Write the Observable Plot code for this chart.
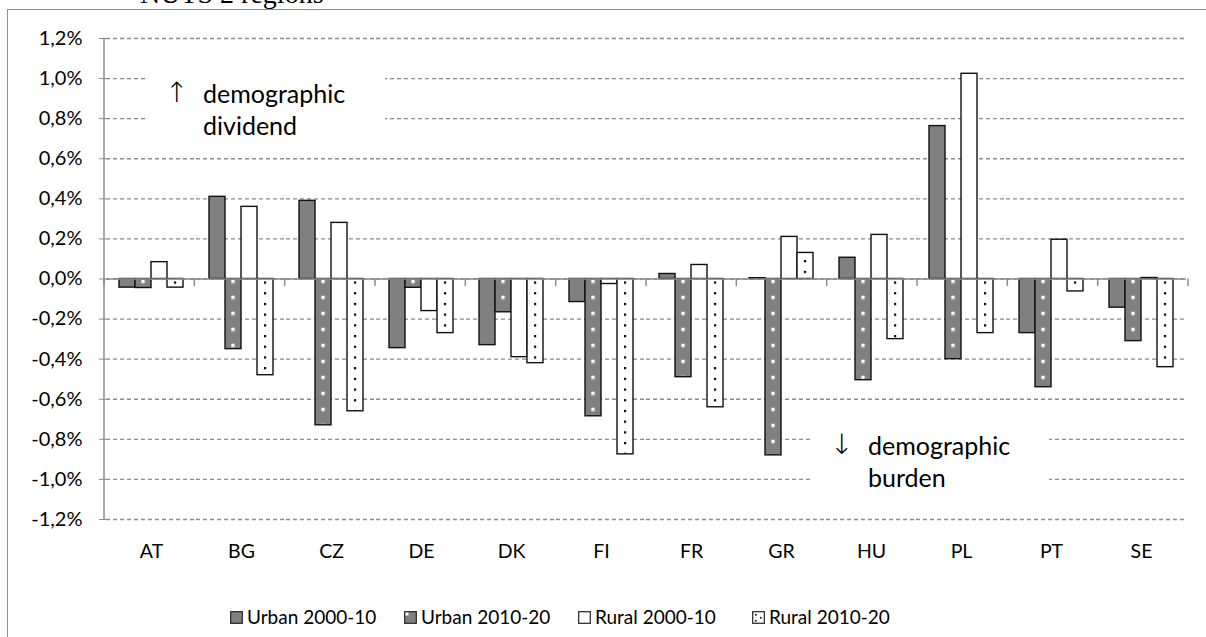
<!DOCTYPE html>
<html><head><meta charset="utf-8">
<script src="https://cdn.jsdelivr.net/npm/d3@7"></script>
<script src="https://cdn.jsdelivr.net/npm/@observablehq/plot@0.6"></script>
<style>
body{margin:0;background:#fff;}
#wrap{position:relative;width:1206px;height:637px;overflow:hidden;font-family:Lato,"DejaVu Sans",sans-serif;color:#000;}
#frame{position:absolute;left:7px;top:9px;width:1300px;height:700px;border-left:1.5px solid #8e8e8e;border-top:1.5px solid #8e8e8e;}
#title{position:absolute;left:140px;top:-20.5px;font-family:"Liberation Serif","Times New Roman",serif;font-size:28px;line-height:28px;white-space:nowrap;}
#chart{position:absolute;left:0;top:0;}
.note{position:absolute;background:#fff;font-size:25px;line-height:32px;}
.note .arr{position:absolute;font-family:"DejaVu Sans",sans-serif;font-size:28px;line-height:32px;font-weight:200;color:#000;}
.note .txt{position:absolute;white-space:nowrap;}
#legend{position:absolute;top:607px;left:230px;display:flex;font-size:19px;line-height:19px;}
.item{width:174px;display:flex;align-items:flex-start;white-space:nowrap;}
.item svg{margin-top:4px;margin-right:4px;flex:none;}
</style></head>
<body>
<div id="wrap">
  <div id="title">NUTS 2 regions</div>
  <div id="frame"></div>
  <div id="chart"></div>
  <div class="note" style="left:146px;top:62px;width:239px;height:84px">
    <span class="arr" style="left:19px;top:15px">↑</span>
    <div class="txt" style="left:57px;top:15px">demographic<br>dividend</div>
  </div>
  <div class="note" style="left:813px;top:420px;width:236px;height:80px">
    <span class="arr" style="left:17px;top:9px">↓</span>
    <div class="txt" style="left:55px;top:9px">demographic<br>burden</div>
  </div>
  <div id="legend"></div>
</div>
<script>
const countries = ["AT","BG","CZ","DE","DK","FI","FR","GR","HU","PL","PT","SE"];
const seriesNames = ["Urban 2000-10","Urban 2010-20","Rural 2000-10","Rural 2010-20"];
const urban2000 = [-0.043, 0.41, 0.39, -0.345, -0.33, -0.115, 0.025, 0.004, 0.106, 0.763, -0.27, -0.143];
const urban2010 = [-0.045, -0.35, -0.73, -0.044, -0.166, -0.685, -0.49, -0.88, -0.505, -0.40, -0.54, -0.31];
const rural2000 = [0.084, 0.36, 0.28, -0.16, -0.39, -0.025, 0.07, 0.21, 0.22, 1.024, 0.196, 0.005];
const rural2010 = [-0.043, -0.48, -0.66, -0.27, -0.42, -0.875, -0.64, 0.13, -0.30, -0.27, -0.062, -0.44];
const yTicks = [-1.2, -1.0, -0.8, -0.6, -0.4, -0.2, 0, 0.2, 0.4, 0.6, 0.8, 1.0, 1.2];

const seriesValues = [urban2000, urban2010, rural2000, rural2010];
const data = countries.flatMap((c, i) => seriesNames.map((s, j) => ({country: c, series: s, value: seriesValues[j][i]})));
const fills = ["#808080", "url(#patU10)", "#ffffff", "url(#patR10)"];
const fmt = d => (d < 0 ? "-" : "") + Math.abs(d).toFixed(1).replace(".", ",") + "%";

const plot = Plot.plot({
  width: 1206, height: 560,
  marginLeft: 104, marginRight: 18, marginTop: 38, marginBottom: 41,
  style: {fontFamily: "Lato, 'DejaVu Sans', sans-serif", fontSize: "20px", color: "#000", background: "transparent", overflow: "visible"},
  fx: {domain: countries, padding: 0, axis: null, label: null},
  x: {domain: seriesNames, paddingInner: 0, paddingOuter: 0.74, axis: null},
  y: {domain: [-1.2, 1.2], axis: null},
  color: {type: "ordinal", domain: seriesNames, range: fills},
  marks: [
    Plot.gridY(yTicks, {stroke: "#8c8c8c", strokeOpacity: 1, strokeWidth: 1.3, strokeDasharray: "4,3"}),
    Plot.barY(data, {fx: "country", x: "series", y: "value", fill: "series", stroke: "#111", strokeWidth: 1.4}),
    Plot.ruleY([0], {stroke: "#8c8c8c", strokeWidth: 1.5}),
    Plot.axisY(yTicks, {tickSize: 7, tickPadding: 17, stroke: "#8c8c8c", tickFormat: fmt, fontSize: 20, label: null}),
    Plot.axisFx({anchor: "bottom", tickSize: 0, tickPadding: 25, fontSize: 19.5, label: null})
  ]
});
document.getElementById("chart").appendChild(plot);

// Axis lines and category boundary ticks from the plot's own scales
const fxS = plot.scale("fx"), yS = plot.scale("y");
const yLin = d3.scaleLinear(yS.domain, yS.range);
const [fx0, fx1] = fxS.range;
const step = (fx1 - fx0) / countries.length;
const root = d3.select(plot);
const g = root.append("g").attr("stroke", "#8c8c8c").attr("stroke-width", 1.5);
g.append("line").attr("x1", fx0).attr("x2", fx0).attr("y1", yLin(1.2)).attr("y2", yLin(-1.2));
d3.range(countries.length + 1).forEach(k => {
  const x = fx0 + k * step;
  g.append("line").attr("x1", x).attr("x2", x).attr("y1", yLin(0)).attr("y2", yLin(0) + 7.5);
});

// Patterns aligned to the bars
const defs = root.insert("defs", ":first-child");
const u10 = plot.querySelector('rect[fill="url(#patU10)"]');
const r10 = plot.querySelector('rect[fill="url(#patR10)"]');
const ux = +u10.getAttribute("x"), uw = +u10.getAttribute("width"), uy = +u10.getAttribute("y");
const rx = +r10.getAttribute("x"), ry = +r10.getAttribute("y");
const pu = defs.append("pattern").attr("id", "patU10").attr("patternUnits", "userSpaceOnUse")
  .attr("width", step).attr("height", 16).attr("x", ux + uw / 2 - 1.7).attr("y", uy + 1.2);
pu.append("rect").attr("width", step).attr("height", 16).attr("fill", "#808080");
pu.append("rect").attr("width", 3.4).attr("height", 3.4).attr("fill", "#fff");
const pr = defs.append("pattern").attr("id", "patR10").attr("patternUnits", "userSpaceOnUse")
  .attr("width", 18).attr("height", 10.7).attr("x", rx + 7).attr("y", ry + 3);
pr.append("rect").attr("width", 18).attr("height", 10.7).attr("fill", "#fff");
pr.append("rect").attr("width", 2.2).attr("height", 2.2).attr("fill", "#000");
pr.append("rect").attr("x", 9).attr("y", 5.35).attr("width", 2.2).attr("height", 2.2).attr("fill", "#000");

// Legend
const legendSwatches = [
  `<rect x="0.7" y="0.7" width="11.6" height="11.6" fill="#808080" stroke="#222" stroke-width="1.2"/>`,
  `<rect x="0.7" y="0.7" width="11.6" height="11.6" fill="#808080" stroke="#222" stroke-width="1.2"/><rect x="1.5" y="1.5" width="3" height="3" fill="#fff"/>`,
  `<rect x="0.7" y="0.7" width="11.6" height="11.6" fill="#fff" stroke="#222" stroke-width="1.2"/>`,
  `<rect x="0.7" y="0.7" width="11.6" height="11.6" fill="#fff" stroke="#222" stroke-width="1.2"/><rect x="3" y="3" width="1.6" height="1.6" fill="#000"/><rect x="8" y="6" width="1.6" height="1.6" fill="#000"/><rect x="3" y="9" width="1.6" height="1.6" fill="#000"/>`
];
const legend = document.getElementById("legend");
seriesNames.forEach((s, i) => {
  const it = document.createElement("div");
  it.className = "item";
  it.innerHTML = `<svg width="13" height="13">${legendSwatches[i]}</svg><span>${s}</span>`;
  legend.appendChild(it);
});
</script>
</body></html>
